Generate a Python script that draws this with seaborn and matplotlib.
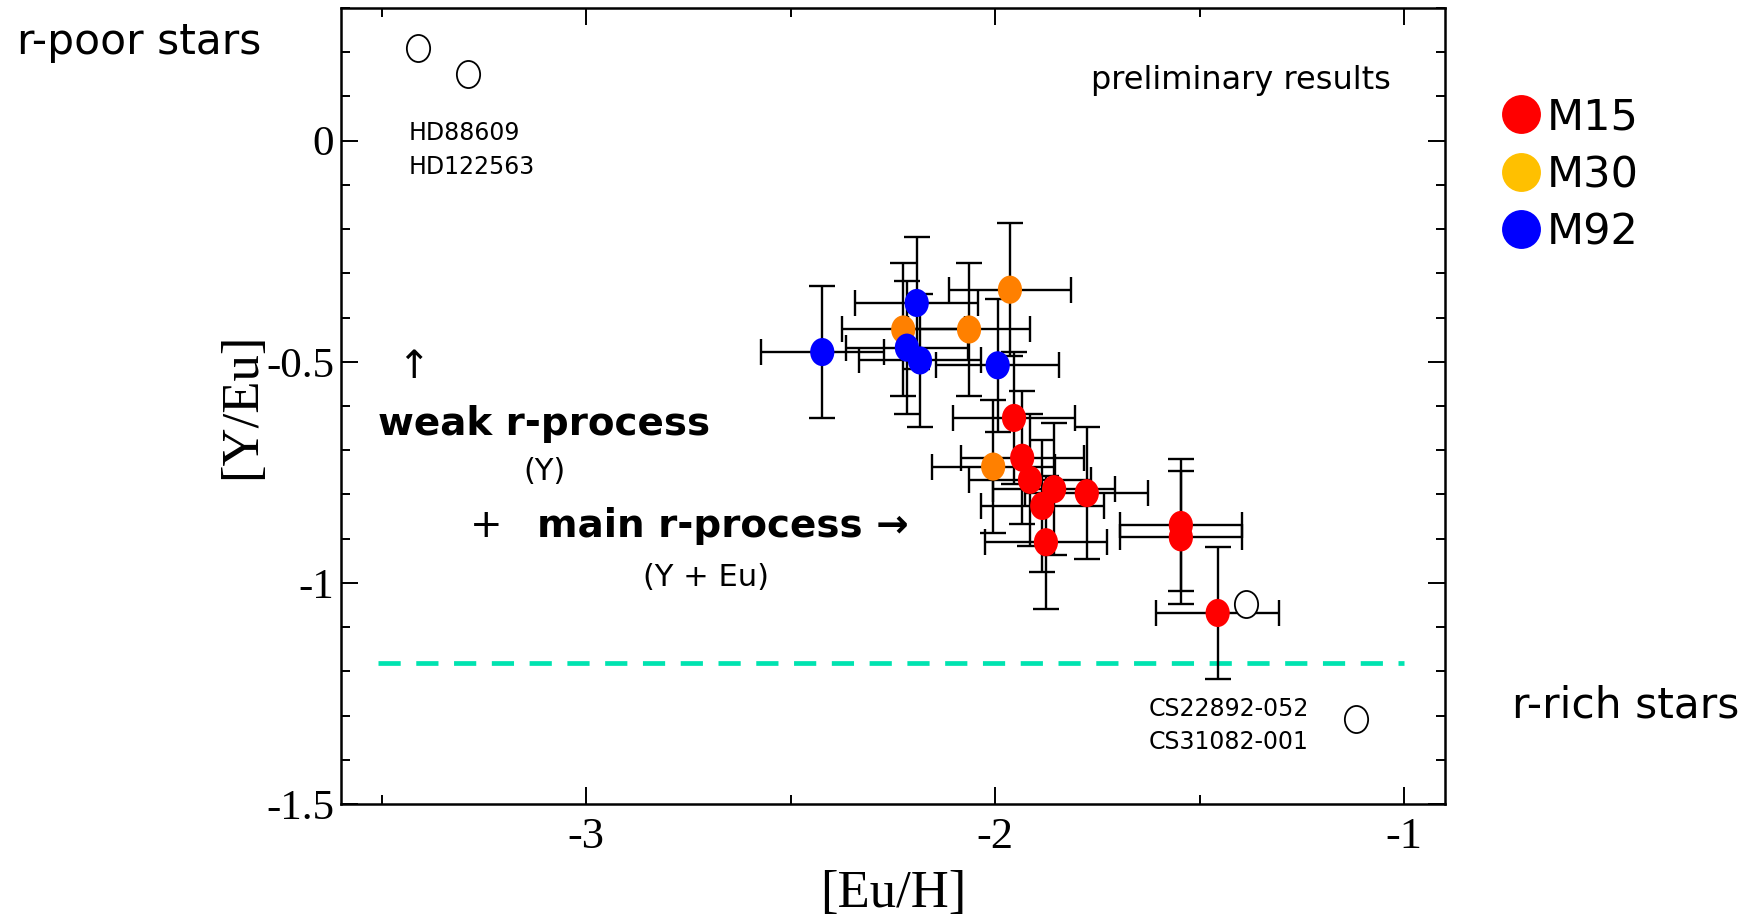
import numpy as np
import pandas as pd
import matplotlib
matplotlib.use("Agg")
import matplotlib.pyplot as plt
from matplotlib.lines import Line2D
from matplotlib.path import Path
from matplotlib.ticker import MultipleLocator
import seaborn as sns

# ---------------- data ----------------
m15_eu_h = [-1.954, -1.934, -1.915, -1.856, -1.776, -1.885, -1.876, -1.546, -1.546, -1.456]
m15_y_eu = [-0.627, -0.717, -0.767, -0.788, -0.797, -0.826, -0.908, -0.869, -0.897, -1.068]
m15_xerr = [0.15, 0.15, 0.15, 0.15, 0.15, 0.15, 0.15, 0.15, 0.15, 0.15]
m15_yerr = [0.15, 0.15, 0.15, 0.15, 0.15, 0.15, 0.15, 0.15, 0.15, 0.15]

m30_eu_h = [-2.225, -2.064, -1.964, -2.005]
m30_y_eu = [-0.427, -0.427, -0.337, -0.737]
m30_xerr = [0.15, 0.15, 0.15, 0.15]
m30_yerr = [0.15, 0.15, 0.15, 0.15]

m92_eu_h = [-2.423, -2.192, -2.216, -2.184, -1.994]
m92_y_eu = [-0.478, -0.367, -0.468, -0.497, -0.508]
m92_xerr = [0.15, 0.15, 0.15, 0.15, 0.15]
m92_yerr = [0.15, 0.15, 0.15, 0.15, 0.15]

ref_eu_h = [-3.411, -3.290, -1.387, -1.118]
ref_y_eu = [0.210, 0.151, -1.048, -1.308]

solar_y_eu = -1.182
solar_eu_h_range = [-3.51, -1.0]

cluster_names = ["M15", "M30", "M92"]
x_ticks = [-3, -2, -1]
x_tick_labels = ["-3", "-2", "-1"]
y_ticks = [-1.5, -1.0, -0.5, 0.0]
y_tick_labels = ["-1.5", "-1", "-0.5", "0"]

# ---------------- styling ----------------
sns.set_style("ticks")
plt.rcParams["font.family"] = ["DejaVu Sans"]
plt.rcParams["axes.unicode_minus"] = False
plt.rcParams["text.color"] = "black"
plt.rcParams["axes.labelcolor"] = "black"
plt.rcParams["xtick.color"] = "black"
plt.rcParams["ytick.color"] = "black"
plt.rcParams["axes.edgecolor"] = "black"

W, H = 1754, 916
fig = plt.figure(figsize=(W / 100, H / 100), dpi=100)
ax = fig.add_axes([341 / W, 1 - 804 / H, (1445 - 341) / W, (804 - 8) / H])

plot_colors = {"M15": "#FF0000", "M30": "#FF8000", "M92": "#0000FF"}
legend_colors = {"M15": "#FF0000", "M30": "#FFC000", "M92": "#0000FF"}

df = pd.DataFrame({
    "eu_h": m15_eu_h + m30_eu_h + m92_eu_h,
    "y_eu": m15_y_eu + m30_y_eu + m92_y_eu,
    "xerr": m15_xerr + m30_xerr + m92_xerr,
    "yerr": m15_yerr + m30_yerr + m92_yerr,
    "cluster": ["M15"] * len(m15_eu_h) + ["M30"] * len(m30_eu_h) + ["M92"] * len(m92_eu_h),
})
ref_df = pd.DataFrame({"eu_h": ref_eu_h, "y_eu": ref_y_eu})

# slightly tall ellipse marker
circ = Path.unit_circle()
ell = Path(circ.vertices * np.array([0.86, 1.0]), circ.codes)

# reference line
ax.hlines(solar_y_eu, solar_eu_h_range[0], solar_eu_h_range[1], colors="#00E3B0",
          linewidth=3.4, linestyles=(0, (4.7, 3.3)), zorder=1)

# error bars
ax.errorbar(df["eu_h"], df["y_eu"], xerr=df["xerr"], yerr=df["yerr"], fmt="none",
            ecolor="black", elinewidth=1.7, capsize=9.6, capthick=1.7, zorder=2)

sns.scatterplot(data=df, x="eu_h", y="y_eu", hue="cluster", palette=plot_colors,
                marker=ell, s=410, linewidth=0, edgecolor="none", legend=False,
                zorder=3, ax=ax)
sns.scatterplot(data=ref_df, x="eu_h", y="y_eu", marker=ell, s=380,
                facecolor="white", edgecolor="black", linewidth=1.3, legend=False,
                zorder=3, ax=ax)

ax.set_xlim(-3.6, -0.9)
ax.set_ylim(-1.5, 0.3)
ax.set_xticks(x_ticks)
ax.set_xticklabels(x_tick_labels)
ax.set_yticks(y_ticks)
ax.set_yticklabels(y_tick_labels)
ax.xaxis.set_minor_locator(MultipleLocator(0.5))
ax.yaxis.set_minor_locator(MultipleLocator(0.1))
ax.tick_params(which="both", direction="in", top=True, right=True, width=1.4,
               color="black", labelcolor="black")
ax.tick_params(which="major", length=12)
ax.tick_params(which="minor", length=6.5)
ax.tick_params(axis="x", which="major", pad=9, labelsize=32)
ax.tick_params(axis="y", which="major", pad=5, labelsize=31)
for lab in ax.get_xticklabels() + ax.get_yticklabels():
    lab.set_fontfamily("Liberation Serif")
for sp in ax.spines.values():
    sp.set_linewidth(1.8)
    sp.set_color("black")

ax.set_xlabel("[Eu/H]", fontsize=38, fontfamily="Liberation Serif", color="black")
ax.set_ylabel("[Y/Eu]", fontsize=38, fontfamily="Liberation Serif", color="black")
ax.xaxis.set_label_coords(0.5, -(870 - 804) / 796)
ax.yaxis.set_label_coords(-(341 - 266) / 1104, (804 - 405.5) / 796)


def ftext(xpx, ypx, s, **kw):
    fig.text(xpx / W, 1 - ypx / H, s, color="black", **kw)


ftext(17, 54, "r-poor stars", fontsize=30.5, va="baseline", ha="left")
ftext(1512, 717.5, "r-rich stars", fontsize=30.5, va="baseline", ha="left")
ftext(1091, 89.5, "preliminary results", fontsize=23, va="baseline", ha="left")
ftext(409, 140.5, "HD88609", fontsize=17, va="baseline", ha="left")
ftext(409, 174, "HD122563", fontsize=17, va="baseline", ha="left")
ftext(1149, 715.5, "CS22892-052", fontsize=17, va="baseline", ha="left")
ftext(1149, 749, "CS31082-001", fontsize=17, va="baseline", ha="left")
ftext(413, 367, "\u2191", fontsize=28, va="center", ha="center")
ftext(378, 435, "weak r-process", fontsize=28, fontweight="bold", va="baseline", ha="left")
ftext(545, 480, "(Y)", fontsize=22, va="baseline", ha="center")
ftext(486, 537, "+", fontsize=28, va="baseline", ha="center")
ftext(537, 537, "main r-process \u2192", fontsize=28, fontweight="bold", va="baseline", ha="left")
ftext(706, 586, "(Y + Eu)", fontsize=22, va="baseline", ha="center")

handles = [Line2D([], [], marker="o", ls="", markersize=28, markerfacecolor=legend_colors[c],
                  markeredgewidth=0, color=legend_colors[c]) for c in cluster_names]
fig.legend(handles, cluster_names, loc="center left",
           bbox_to_anchor=((1521 - 17.2) / W, 1 - 175 / H),
           frameon=False, fontsize=31, handlelength=0.8, handletextpad=0.2,
           labelspacing=0.36, borderpad=0, borderaxespad=0, labelcolor="black")

fig.savefig("out.png", dpi=100)
